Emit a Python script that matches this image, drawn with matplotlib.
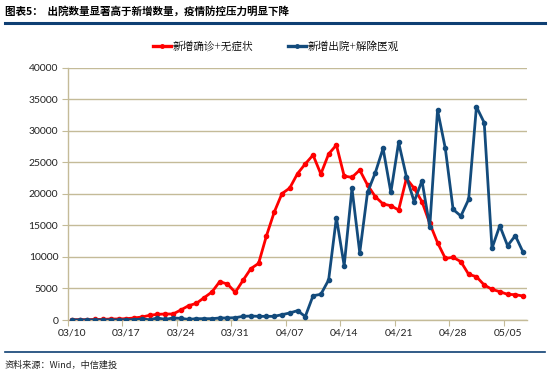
import numpy as np
import matplotlib
matplotlib.use("Agg")
import matplotlib.pyplot as plt
from matplotlib.lines import Line2D

plt.rcParams['font.family'] = ['Noto Sans CJK SC', 'DejaVu Sans']

# 03/10 - 05/07, one value per day
confirmed = [50, 50, 50, 100, 100, 160, 160, 210, 320, 475, 740, 900, 950, 950,
             1585, 2270, 2640, 3540, 4440, 6080, 5700, 4390, 6290, 8140, 8980,
             13310, 17070, 20030, 20920, 23200, 24750, 26150, 23140, 26310, 27740,
             22820, 22610, 23775, 21400, 19550, 18390, 18120, 17435, 22450, 20870,
             18760, 15320, 12260, 9770, 9930, 9250, 7240, 6870, 5550, 4860,
             4490, 4070, 4015, 3800]
discharged = [20, 20, 20, 20, 20, 20, 20, 50, 50, 160, 50, 320, 100, 320, 260,
              100, 210, 210, 210, 320, 320, 370, 580, 630, 580, 580, 580, 845,
              1110, 1480, 550, 3850, 4070, 6340, 16220, 8610, 20870, 10670, 20230,
              23350, 27210, 20230, 28160, 22720, 18760, 22080, 14790, 33290, 27210,
              17540, 16480, 19130, 33810, 31280, 11360, 14950, 11780, 13370, 10730]
tick_labels = ['03/10', '03/17', '03/24', '03/31', '04/07', '04/14', '04/21', '04/28', '05/05']
series_names = ['新增确诊+无症状', '新增出院+解除医观']

red = '#FF0000'
blue = '#134B7C'
grid_c = '#C4BB98'

fig = plt.figure(figsize=(5.5, 3.73), dpi=100)
ax = fig.add_axes([68 / 550, 1 - 320 / 373, (527 - 68) / 550, (320 - 67.7) / 373])

x = np.arange(len(confirmed))
ax.plot(x, confirmed, color=red, lw=2.0, marker='o', ms=3, zorder=3)
ax.plot(x, discharged, color=blue, lw=2.0, marker='o', ms=3, zorder=4)

ax.set_xlim(-0.5, len(confirmed) - 0.5)
ax.set_ylim(0, 40000)
ax.set_yticks(np.arange(0, 40001, 5000))
ax.yaxis.grid(True, color=grid_c, lw=1.0)
ax.set_axisbelow(True)

ax.set_xticks(np.arange(-0.5, len(confirmed), 7))
ax.set_xticklabels([])
ax.set_xticks(np.arange(0, len(confirmed), 7), minor=True)
ax.set_xticklabels(tick_labels, minor=True)
ax.tick_params(axis='x', which='major', length=4, color=grid_c, direction='out')
ax.tick_params(axis='x', which='minor', length=0, pad=6, labelsize=7.5)
ax.tick_params(axis='y', length=4, color=grid_c, labelsize=7.5, pad=3)
for lab in ax.get_xticklabels(minor=True) + ax.get_yticklabels():
    lab.set_fontfamily('Lato')
    lab.set_color('#222222')

for s in ['top', 'right']:
    ax.spines[s].set_visible(False)
for s in ['left', 'bottom']:
    ax.spines[s].set_color(grid_c)
    ax.spines[s].set_linewidth(1.0)

# legend
handles = [Line2D([], [], color=red, lw=2.4, marker='o', ms=2.5),
           Line2D([], [], color=blue, lw=2.4, marker='o', ms=2.5)]
fig.legend(handles, series_names, loc='center', bbox_to_anchor=(276 / 550, 1 - 47 / 373),
           ncol=2, frameon=False, handlelength=1.7, handletextpad=0.15,
           columnspacing=3.2, prop={'family': ['Noto Serif CJK SC', 'Noto Sans CJK SC'], 'size': 7.7})

# header and footer
fig.text(5 / 550, 1 - 12 / 373, '图表5：  出院数量显著高于新增数量，疫情防控压力明显下降',
         fontsize=7.6, fontweight='bold', va='center', ha='left')
fig.add_artist(Line2D([5 / 550, 545 / 550], [1 - 22.5 / 373] * 2, color='#0E3F73', lw=2.2))
fig.add_artist(Line2D([5 / 550, 545 / 550], [1 - 352 / 373] * 2, color='#0E3F73', lw=1.2))
fig.text(5 / 550, 1 - 365 / 373, '资料来源：Wind，中信建投', fontsize=6.6, style='italic',
         va='center', ha='left', color='#222222')

fig.savefig('out.png', dpi=100)
